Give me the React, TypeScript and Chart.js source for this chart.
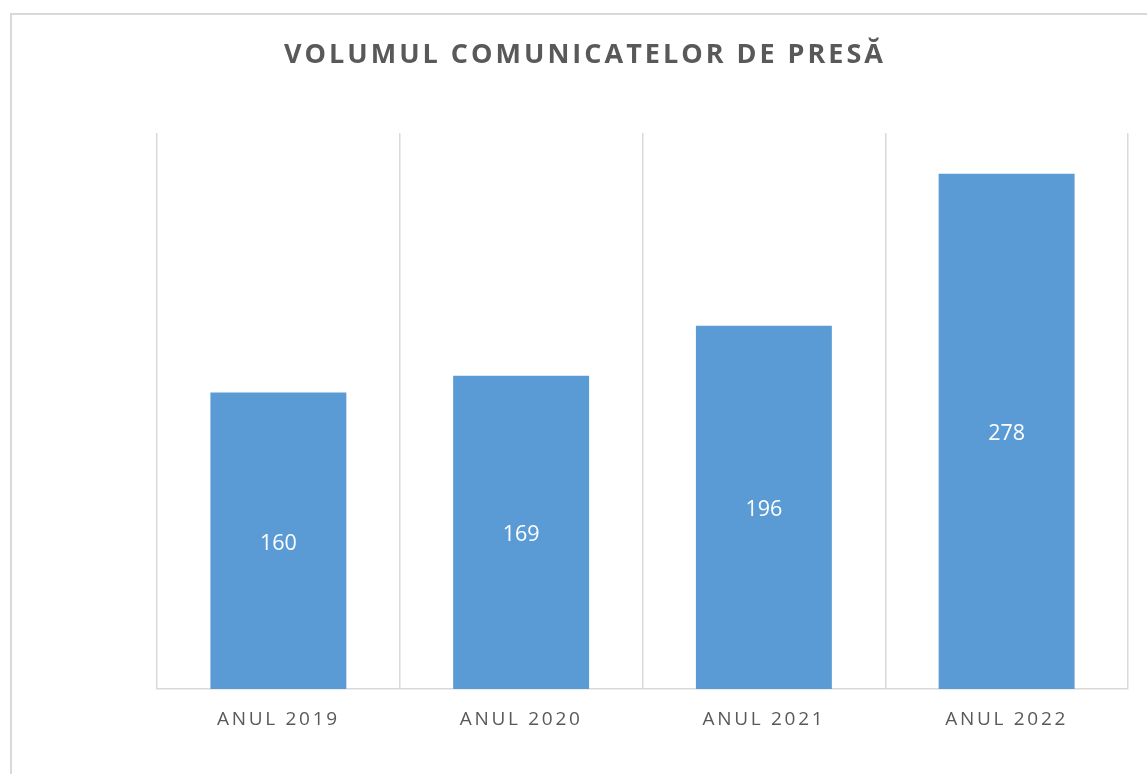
import React, { useEffect, useRef } from "react";
import { Chart, registerables } from "chart.js";

Chart.register(...registerables);

const categories = ["ANUL 2019", "ANUL 2020", "ANUL 2021", "ANUL 2022"];
const values = [160, 169, 196, 278];
const titleText = "VOLUMUL COMUNICATELOR DE PRESĂ";

const W = 1147;
const H = 774;

export default function App() {
  const ref = useRef<HTMLCanvasElement | null>(null);
  useEffect(() => {
    if (!ref.current) return;
    const framePlugin = {
      id: "frame",
      beforeDraw(chart: any) {
        const ctx = chart.ctx;
        ctx.save();
        ctx.fillStyle = "#ffffff";
        ctx.fillRect(0, 0, chart.width, chart.height);
        ctx.strokeStyle = "#d9d9d9";
        ctx.lineWidth = 2;
        ctx.strokeRect(11, 14, chart.width + 20, chart.height + 20);
        // title
        (ctx as any).letterSpacing = "3px";
        ctx.fillStyle = "#595959";
        ctx.font = "bold 27px 'Open Sans'";
        ctx.textAlign = "center";
        ctx.textBaseline = "alphabetic";
        ctx.fillText(titleText, 585, 63);
        ctx.restore();
        (ctx as any).letterSpacing = "2.7px";
      },
      afterDatasetsDraw(chart: any) {
        const ctx = chart.ctx;
        ctx.save();
        (ctx as any).letterSpacing = "0px";
        ctx.fillStyle = "#ffffff";
        ctx.font = "21.5px 'Open Sans'";
        ctx.textAlign = "center";
        ctx.textBaseline = "alphabetic";
        const meta = chart.getDatasetMeta(0);
        meta.data.forEach((bar: any, i: number) => {
          const y = (bar.y + bar.base) / 2 + 9;
          ctx.fillText(String(values[i]), bar.x, y);
        });
        ctx.restore();
      },
      afterDraw(chart: any) {
        (chart.ctx as any).letterSpacing = "0px";
      },
    };
    const chart = new Chart(ref.current, {
      type: "bar",
      data: {
        labels: categories,
        datasets: [
          {
            data: values,
            backgroundColor: "#5b9bd5",
            barPercentage: 0.56,
            categoryPercentage: 1,
          },
        ],
      },
      options: {
        animation: false,
        responsive: false,
        layout: { padding: { left: 157, right: 19, top: 133, bottom: 0 } },
        plugins: {
          legend: { display: false },
          tooltip: { enabled: false },
          title: { display: false },
        },
        scales: {
          y: { display: false, min: 0, max: 300 },
          x: {
            grid: { color: "#d9d9d9", lineWidth: 1.5, drawTicks: false, offset: true },
            border: { color: "#d9d9d9", width: 1.5 },
            ticks: {
              color: "#595959",
              font: { family: "'Open Sans'", size: 19 },
              padding: 19,
            },
            afterFit: (s: any) => {
              s.height = 85;
            },
          },
        },
      },
      plugins: [framePlugin],
    });
    return () => chart.destroy();
  }, []);
  return (
    <div style={{ position: "absolute", left: 0, top: 0, width: W, height: H }}>
      <canvas ref={ref} width={W} height={H} />
    </div>
  );
}
